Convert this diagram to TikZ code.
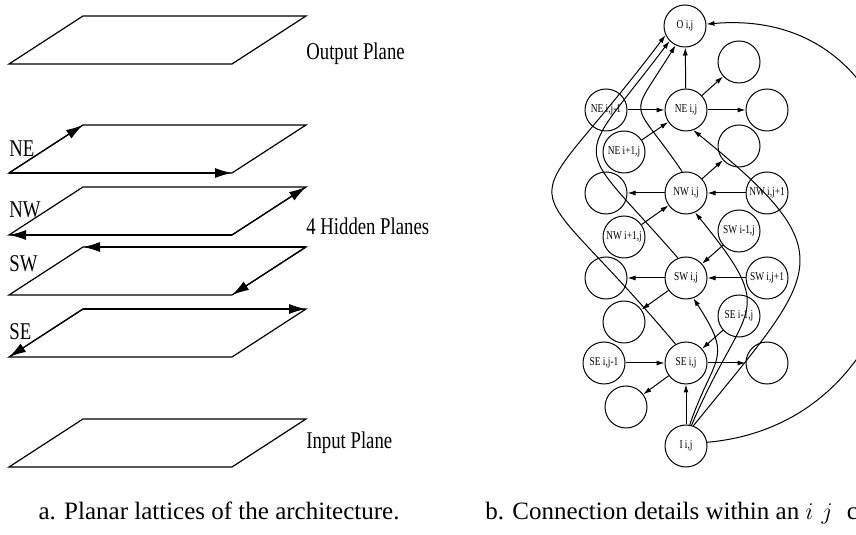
\documentclass[tikz,border=0pt]{standalone}
\usepackage{fontspec}
\setmainfont{Liberation Serif}
\newfontfamily\narrowfont[FakeStretch=0.78]{Liberation Serif}
\usetikzlibrary{arrows.meta}

\begin{document}
\begin{tikzpicture}[x=0.5pt, y=0.5pt,
      plane/.style ={draw=black, line width=0.6pt},
      plane_arrow/.style ={draw, line width=0.6pt,
        -{Latex[length=8.5pt, width=5pt]}},
      plane_label/.style ={anchor=base west, inner sep=0pt,
        font=\narrowfont\fontsize{12}{14}\selectfont},
      cell/.style ={circle, draw=black, line width=0.5pt,
        minimum size=21pt, inner sep=0pt,
        font=\narrowfont\fontsize{6}{7}\selectfont},
      line/.style ={draw, line width=0.5pt, -{Latex[length=4pt, width=2.5pt]}},
      caption/.style ={inner sep=0pt, font=\fontsize{12.5}{15}\selectfont}]
    \useasboundingbox (0,0) rectangle (856,535);
    \clip (0,0) rectangle (856,535);
    %
    % 1. the planar lattices (left)
    \foreach \p/\y in {out/471, ne/362, nw/300, sw/240, se/178, input/68} {
      \coordinate (\p_bl) at (9,\y);
      \coordinate (\p_br) at (232,\y);
      \coordinate (\p_tr) at (306,\y+48);
      \coordinate (\p_tl) at (83,\y+48);
      \draw [plane] (\p_bl) -- (\p_br) -- (\p_tr) -- (\p_tl) -- cycle;
    }
    \begin{scope}[every path/.style=plane_arrow]
      \path (ne_bl) -- (ne_tl);
      \path (ne_bl) -- (ne_br);
      \path (nw_br) -- (nw_tr);
      \path (nw_br) -- (nw_bl);
      \path (sw_tr) -- (sw_tl);
      \path (sw_tr) -- (sw_br);
      \path (se_tl) -- (se_tr);
      \path (se_tl) -- (se_bl);
    \end{scope}
    \node [plane_label] (lbl_out) at (306,475) {Output Plane};
    \node [plane_label] (lbl_hidden) at (306,300) {4 Hidden Planes};
    \node [plane_label] (lbl_input) at (306,86) {Input Plane};
    \node [plane_label] (lbl_ne) at (9,378) {NE};
    \node [plane_label] (lbl_nw) at (9,317) {NW};
    \node [plane_label] (lbl_sw) at (9,263) {SW};
    \node [plane_label] (lbl_se) at (9,195) {SE};
    %
    % 2. the cells of one ij column (right)
    \node [cell] (o) at (685,509) {O i,j};
    \node [cell] (ne) at (686,425) {NE i,j};
    \node [cell] (ne_ur) at (739,473) {};
    \node [cell] (ne_r) at (767,425) {};
    \node [cell] (ne_jm) at (606,425) {NE i,j-1};
    \node [cell] (ne_ip) at (624,383) {NE i+1,j};
    \node [cell] (nw_ur) at (739,389) {};
    \node [cell] (nw) at (686,342) {NW i,j};
    \node [cell] (nw_l) at (606,342) {};
    \node [cell] (nw_jp) at (767,342) {NW i,j+1};
    \node [cell] (nw_ip) at (624,298) {NW i+1,j};
    \node [cell] (sw_im) at (739,304) {SW i-1,j};
    \node [cell] (sw) at (686,257) {SW i,j};
    \node [cell] (sw_l) at (606,257) {};
    \node [cell] (sw_jp) at (767,257) {SW i,j+1};
    \node [cell] (sw_ll) at (624,213) {};
    \node [cell] (se_im) at (739,219) {SE i-1,j};
    \node [cell] (se) at (686,172) {SE i,j};
    \node [cell] (se_jm) at (604,172) {SE i,j-1};
    \node [cell] (se_r) at (767,172) {};
    \node [cell] (se_ll) at (626,128) {};
    \node [cell] (inp) at (686,89) {I i,j};
    %
    % 3. connections
    \begin{scope}[every path/.style=line]
      % within the planes
      \path (ne) -- (o);
      \path (ne) -- (ne_ur);
      \path (ne) -- (ne_r);
      \path (ne_jm) -- (ne);
      \path (ne_ip) -- (ne);
      \path (nw) -- (nw_ur);
      \path (nw) -- (nw_l);
      \path (nw_jp) -- (nw);
      \path (nw_ip) -- (nw);
      \path (sw) -- (sw_l);
      \path (sw_jp) -- (sw);
      \path (sw_im) -- (sw);
      \path (sw) -- (sw_ll);
      \path (se_jm) -- (se);
      \path (se_im) -- (se);
      \path (se) -- (se_r);
      \path (se) -- (se_ll);
      \path (inp) -- (se);
      % hidden planes to output
      \path (se.119) .. controls +(130:253) and +(233:253) .. (o.205);
      \path (sw.112) .. controls +(131:163) and +(233:163) .. (o.224);
      \path (nw.100) .. controls +(124:92) and +(238:92) .. (o.244);
      % input to hidden planes and output
      \path (inp.80) .. controls +(71:75) and +(303:75) .. (sw.-70);
      \path (inp.75) .. controls +(67:136) and +(309:136) .. (nw.-65);
      \path (inp.70) .. controls +(51:200) and +(321:200) .. (ne.-70);
      \path (inp.10) .. controls +(5:260) and +(5:260) .. (o.5);
    \end{scope}
    %
    % 4. captions
    \node [caption, anchor=base] (cap_a) at (219,16)
      {a. Planar lattices of the architecture.};
    \node [caption, anchor=base west] (cap_b) at (485,16)
      {b. Connection details within an $i\,\,j$\hspace{4pt} cell.};
  \end{tikzpicture}
\end{document}
